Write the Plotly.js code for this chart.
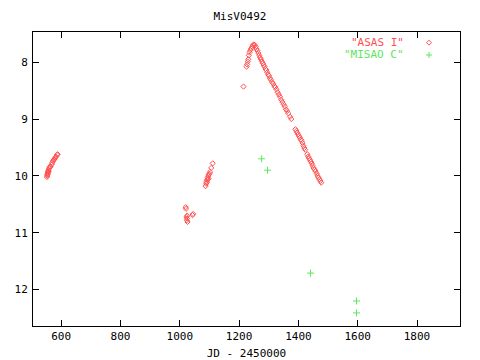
<!DOCTYPE html>
<html>
<head>
<meta charset="utf-8">
<script src="https://cdn.plot.ly/plotly-3.0.1.min.js"></script>
<style>html,body{margin:0;padding:0;background:#fff;}#chart{width:480px;height:360px;}</style>
</head>
<body>
<div id="chart"></div>
<script>
// ASAS I photometry (JD - 2450000, magnitude)
const asasX = [
  552,553,554,555,556,557,558,559,560,562,564,553,555,
  568,570,572,575,578,580,583,586,588,
  1020,1021,1023,1024,1025,1024,1026,1043,1045,
  1087,1089,1090,1092,1094,1096,1098,1100,1097,1102,1106,1111,1091,1095,
  1215,1225,1227,1229,1231,1233,1235,1238,1241,1244,1247,1250,1253,1256,1259,1262,1265,1268,1271,1274,1277,1280,1283,1286,1289,1292,1295,1298,1301,1304,1307,1311,1315,1319,1322,1326,1330,1334,1338,1342,1346,1350,1354,1358,1362,1366,1372,1376,
  1390,1393,1396,1399,1402,1405,1408,1411,1414,1417,1420,1423,
  1430,1433,1436,1439,1442,1445,1448,1451,1455,1458,1462,1465,1468,1471,1474,1477
];
const asasY = [
  10.02,9.98,9.95,9.97,9.92,9.90,9.93,9.88,9.86,9.84,9.84,10.00,9.94,
  9.80,9.77,9.74,9.72,9.70,9.68,9.66,9.63,9.62,
  10.55,10.58,10.72,10.75,10.70,10.78,10.81,10.69,10.67,
  10.18,10.14,10.10,10.07,10.03,10.00,9.98,9.96,10.05,9.93,9.86,9.78,10.12,10.06,
  8.43,8.08,8.04,7.99,7.95,7.88,7.83,7.79,7.76,7.73,7.70,7.69,7.70,7.73,7.77,7.80,7.84,7.88,7.92,7.95,7.99,8.02,8.05,8.08,8.12,8.14,8.18,8.22,8.24,8.28,8.31,8.35,8.38,8.42,8.44,8.48,8.53,8.57,8.61,8.66,8.70,8.74,8.78,8.83,8.86,8.90,8.96,9.00,
  9.18,9.21,9.24,9.27,9.30,9.33,9.36,9.38,9.42,9.47,9.51,9.54,
  9.62,9.66,9.69,9.72,9.75,9.78,9.82,9.86,9.89,9.92,9.96,10.00,10.03,10.06,10.09,10.12
];
// MISAO C photometry
const misaoX = [1276, 1296, 1441, 1596, 1596];
const misaoY = [9.70, 9.90, 11.71, 12.20, 12.41];

const xTicks = [600, 800, 1000, 1200, 1400, 1600, 1800];
const yTicks = [8, 9, 10, 11, 12];
const seriesNames = ['"ASAS I"', '"MISAO C"'];
const chartTitle = 'MisV0492';
const xLabel = 'JD - 2450000';

const RED = '#ff5050';
const GREEN = '#5ee65e';
const FONT = '"DejaVu Sans Mono", monospace';

const traces = [
  {x: asasX, y: asasY, type: 'scatter', mode: 'markers', name: seriesNames[0],
   marker: {symbol: 'diamond-open', size: 4, color: RED, line: {width: 1, color: RED}}},
  {x: misaoX, y: misaoY, type: 'scatter', mode: 'markers', name: seriesNames[1],
   marker: {symbol: 'cross-thin-open', size: 5, color: GREEN, line: {width: 1, color: GREEN}}}
];

const axisCommon = {
  showline: true, linecolor: '#000', linewidth: 1, mirror: 'ticks',
  ticks: 'inside', ticklen: 6, tickwidth: 1, tickcolor: '#000',
  showgrid: false, zeroline: false,
  tickfont: {family: FONT, size: 11, color: '#000'}
};

const layout = {
  width: 480, height: 360,
  margin: {l: 33, r: 20, t: 32, b: 34},
  paper_bgcolor: '#fff', plot_bgcolor: '#fff',
  showlegend: false,
  title: {text: chartTitle, font: {family: FONT, size: 11, color: '#000'}, x: 0.5, xanchor: 'center', y: 1 - 16/360, yanchor: 'middle'},
  xaxis: Object.assign({}, axisCommon, {
    range: [505, 1945], tickvals: xTicks, ticktext: xTicks.map(String),
    title: {text: xLabel, font: {family: FONT, size: 11, color: '#000'}, standoff: 8}
  }),
  yaxis: Object.assign({}, axisCommon, {
    range: [12.64, 7.47], tickvals: yTicks, ticktext: yTicks.map(String),
    ticklabelstandoff: 2
  }),
  annotations: [
    {xref: 'paper', yref: 'paper', x: (406-33)/427, y: (326-42.7)/294, xanchor: 'right', yanchor: 'middle',
     text: seriesNames[0], showarrow: false, font: {family: FONT, size: 11, color: RED}},
    {xref: 'paper', yref: 'paper', x: (406-33)/427, y: (326-55)/294, xanchor: 'right', yanchor: 'middle',
     text: seriesNames[1], showarrow: false, font: {family: FONT, size: 11, color: GREEN}}
  ],
  shapes: [
    {type: 'path', xref: 'paper', yref: 'paper', xsizemode: 'pixel', ysizemode: 'pixel',
     xanchor: (429-33)/427, yanchor: (326-42.7)/294,
     path: 'M -2.5 0 L 0 2.5 L 2.5 0 L 0 -2.5 Z', line: {color: RED, width: 1}},
    {type: 'path', xref: 'paper', yref: 'paper', xsizemode: 'pixel', ysizemode: 'pixel',
     xanchor: (429-33)/427, yanchor: (326-55)/294,
     path: 'M -3 0 L 3 0 M 0 -3 L 0 3', line: {color: GREEN, width: 1}}
  ]
};

Plotly.newPlot('chart', traces, layout, {staticPlot: true, displayModeBar: false});
</script>
</body>
</html>
